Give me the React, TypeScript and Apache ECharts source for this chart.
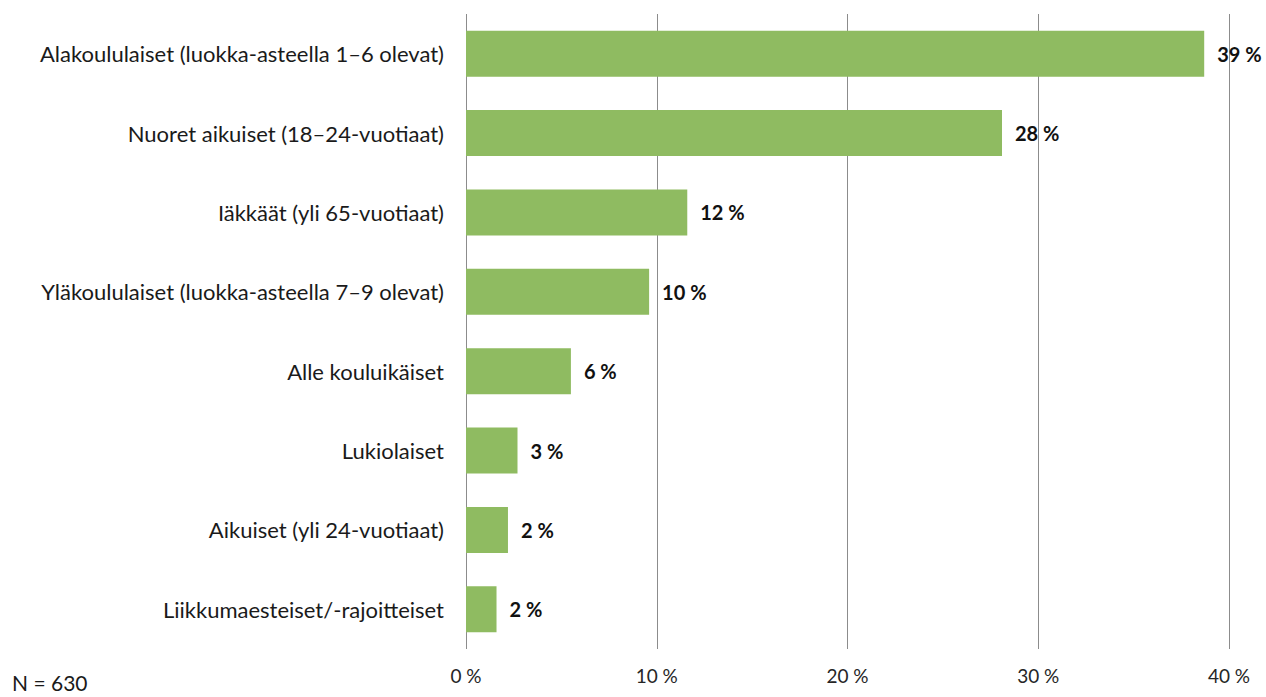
import React, { useEffect, useRef } from "react";
import * as echarts from "echarts";

const categories = [
  "Alakoululaiset (luokka-asteella 1–6 olevat)",
  "Nuoret aikuiset (18–24-vuotiaat)",
  "Iäkkäät (yli 65-vuotiaat)",
  "Yläkoululaiset (luokka-asteella 7–9 olevat)",
  "Alle kouluikäiset",
  "Lukiolaiset",
  "Aikuiset (yli 24-vuotiaat)",
  "Liikkumaesteiset/-rajoitteiset",
];
const values = [38.7, 28.1, 11.6, 9.6, 5.5, 2.7, 2.2, 1.6];
const xTicks = [0, 10, 20, 30, 40];
const note = "N = 630";

const FONT = "Lato";

export default function App() {
  const ref = useRef<HTMLDivElement>(null);
  useEffect(() => {
    if (!ref.current) return;
    const chart = echarts.init(ref.current, undefined, { renderer: "svg" });
    chart.setOption({
      animation: false,
      grid: { left: 466, right: 37, top: 14, bottom: 48, containLabel: false },
      xAxis: {
        type: "value",
        min: xTicks[0],
        max: xTicks[xTicks.length - 1],
        interval: 10,
        axisLine: { show: false },
        axisTick: { show: false },
        splitLine: { show: true, lineStyle: { color: "#8c8c8c", width: 1 } },
        axisLabel: {
          formatter: (v: number) => `${v} %`,
          color: "#262626",
          fontFamily: FONT,
          fontSize: 19,
          margin: 17,
        },
      },
      yAxis: {
        type: "category",
        data: categories,
        inverse: true,
        axisLine: { show: false },
        axisTick: { show: false },
        axisLabel: {
          color: "#1a1a1a",
          fontFamily: FONT,
          fontSize: 22,
          margin: 22,
        },
      },
      series: [
        {
          type: "bar",
          data: values,
          barWidth: "58%",
          itemStyle: { color: "#8fbb61" },
          label: {
            show: true,
            position: "right",
            distance: 13,
            formatter: (p: any) => `${Math.round(p.value)} %`,
            color: "#111",
            fontFamily: FONT,
            fontWeight: "bold",
            fontSize: 20,
          },
        },
      ],
      graphic: [
        {
          type: "text",
          left: 12,
          top: 672,
          style: { text: note, fill: "#1a1a1a", font: `21px ${FONT}` },
        },
      ],
    });
    return () => chart.dispose();
  }, []);
  return <div ref={ref} style={{ width: 1266, height: 697, position: "absolute", left: 0, top: 0 }} />;
}
